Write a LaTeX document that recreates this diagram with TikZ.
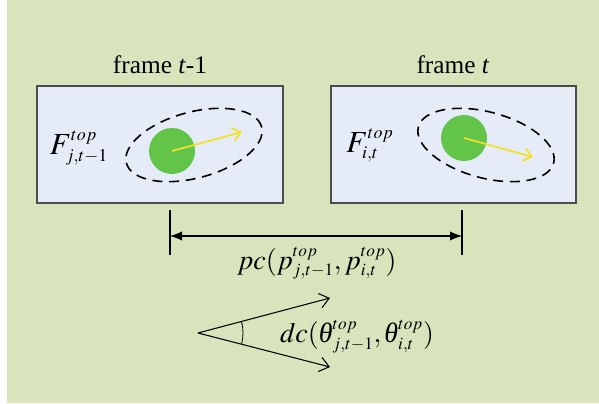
\documentclass[tikz,border=0pt]{standalone}
\usepackage{amsmath}
\usepackage{mathptmx}
\usepackage{fontspec}
\setmainfont{Liberation Serif}
\usetikzlibrary{arrows.meta}
\definecolor{bggreen}{RGB}{216,228,188}
\definecolor{boxblue}{RGB}{230,236,247}
\definecolor{blobgreen}{RGB}{99,196,74}
\definecolor{vecyellow}{RGB}{240,226,40}
\DeclareMathSizes{21}{21}{13}{10}
\DeclareMathSizes{23}{23}{13.5}{10}
\newcommand{\thit}{\text{\itshape θ}}

\begin{document}
\begin{tikzpicture}[x=0.75pt, y=0.75pt,
    frame/.style={draw=black!70, fill=boxblue, line width=0.9pt},
    region/.style={draw=black, dashed, line width=1.2pt, dash pattern=on 7.5pt off 5pt},
    motion/.style={-{Straight Barb[length=6pt,width=10pt]}, vecyellow, line width=1.3pt},
    title/.style={font=\fontsize{19}{22}\selectfont},
    mlabel/.style={font=\fontsize{21}{24}\selectfont},
    flabel/.style={font=\fontsize{23}{26}\selectfont}]
    % Background
    \useasboundingbox (0,0) rectangle (599,403);
    \fill[bggreen] (7,0) rectangle (599,403);

    % Frame t-1
    \draw[frame] (37,200) rectangle (283,317);
    \node[title] (titleA) at (160,338) {frame \textit{t}-1};
    \node[flabel] (FA) at (79,255) {$F_{j,t-1}^{top}$};
    \draw[region, rotate around={15:(194,258)}] (194,258) ellipse (70 and 33);
    \fill[blobgreen] (172,252) circle (23);
    \coordinate (cA) at (172,252);
    \coordinate (vA) at (242,271);
    \draw[motion] (cA) -- (vA);

    % Frame t
    \draw[frame] (331,200) rectangle (576,317);
    \node[title] (titleB) at (453,338) {frame \textit{t}};
    \node[flabel] (FB) at (370,258) {$F_{i,t}^{top}$};
    \draw[region, rotate around={-15:(486,258)}] (486,258) ellipse (70 and 33);
    \fill[blobgreen] (464,265) circle (23);
    \coordinate (cB) at (464,265);
    \coordinate (vB) at (533,246);
    \draw[motion] (cB) -- (vB);

    % Position cost
    \draw[line width=1pt] (170,148) -- (170,193);
    \draw[line width=1pt] (462,148) -- (462,193);
    \coordinate (pA) at (170,167);
    \coordinate (pB) at (462,167);
    \draw[{Latex[length=9pt,width=7pt]}-{Latex[length=9pt,width=7pt]}, line width=0.8pt] (pA) -- (pB);
    \node[mlabel] (pc) at (317,140) {$pc(p_{j,t-1}^{top},p_{i,t}^{top})$};

    % Direction cost
    \coordinate (O) at (198,70);
    \coordinate (dA) at (330,105);
    \coordinate (dB) at (330,36);
    \draw[-{Straight Barb[length=7pt,width=11pt]}, line width=0.8pt] (O) -- (dA);
    \draw[-{Straight Barb[length=7pt,width=11pt]}, line width=0.8pt] (O) -- (dB);
    \draw[line width=0.6pt] (O) ++(14.9:45) arc (14.9:-14.6:45);
    \node[mlabel] (dc) at (357,66) {$dc(\thit_{j,t-1}^{top},\thit_{i,t}^{top})$};
\end{tikzpicture}
\end{document}
